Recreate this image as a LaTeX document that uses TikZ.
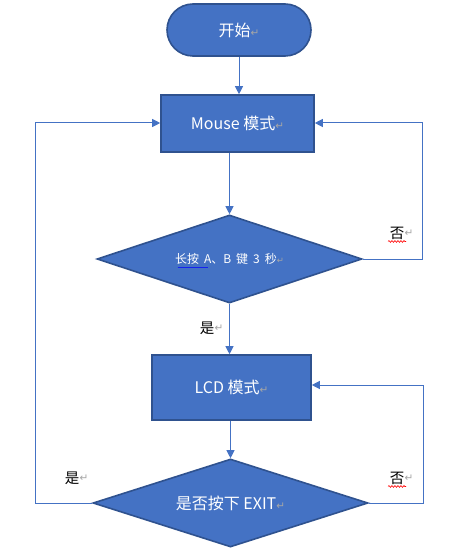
\documentclass[tikz,border=0pt]{standalone}
\usepackage{fontspec}
\setmainfont{Noto Sans CJK SC}
\newfontfamily\symfont{DejaVu Sans}
\usetikzlibrary{shapes.geometric,shapes.misc,arrows.meta,decorations.pathmorphing}
\definecolor{offblue}{HTML}{4472C4}
\definecolor{offdark}{HTML}{2F528F}
\newcommand{\pmark}[1][10.5]{{\symfont\color{gray!70}\fontsize{#1}{12}\selectfont ↵}}
\newcommand{\gap}{\hspace{5pt}}
\begin{document}
\begin{tikzpicture}[x=1pt,y=-1pt,
  box/.style={draw=offdark,line width=1.6pt,fill=offblue,text=white,inner sep=0pt,font=\fontsize{16}{19}\selectfont},
  term/.style={box,rounded rectangle},
  rect/.style={box,rectangle},
  dia/.style={box,diamond,aspect=3},
  arr/.style={draw=offblue,line width=1pt,-{Triangle[length=8pt,width=8pt]}},
  lbl/.style={inner sep=0pt,font=\fontsize{14.5}{17}\selectfont,text=black}]
\fill[white] (0,0) rectangle (460,553);
\useasboundingbox (0,0) rectangle (460,553);
\node[term,minimum width=144pt,minimum height=52pt] (start) at (239,30) {开始\pmark};
\node[rect,minimum width=153pt,minimum height=57pt] (mouse) at (237.5,123.5) {Mouse 模式\pmark};
\node[dia,minimum width=265pt,minimum height=88pt,font=\fontsize{12}{14}\selectfont] (d1) at (229.5,259) {长按\gap A、B\gap 键\gap 3\gap 秒\pmark[8.5]};
\node[rect,minimum width=159pt,minimum height=65pt] (lcd) at (231.5,387.5) {LCD 模式\pmark};
\node[dia,minimum width=275pt,minimum height=88pt] (d2) at (230.5,503) {是否按下 EXIT\pmark};
\coordinate (r1) at (422,123);
\coordinate (l1) at (35,123);
\coordinate (r2) at (423,385);
\draw[arr] (start.south) -- (start.south |- mouse.north);
\draw[arr] (d1.north |- mouse.south) -- (d1.north);
\draw[arr] (d1.south) -- (d1.south |- lcd.north);
\draw[arr] (d2.north |- lcd.south) -- (d2.north);
\draw[arr] (d1.east) -| (r1) -- (r1 -| mouse.east);
\draw[arr] (d2.west) -| (l1) -- (l1 -| mouse.west);
\draw[arr] (d2.east) -| (r2) -- (r2 -| lcd.east);
\node[lbl] (no1) at (397,233) {否};
\node[anchor=west,inner sep=0pt] (no1m) at (no1.east) {\pmark};
\node[lbl] (yes1) at (207,328) {是};
\node[anchor=west,inner sep=0pt] (yes1m) at (yes1.east) {\pmark};
\node[lbl] (yes2) at (72,478) {是};
\node[anchor=west,inner sep=0pt] (yes2m) at (yes2.east) {\pmark};
\node[lbl] (no2) at (397,478) {否};
\node[anchor=west,inner sep=0pt] (no2m) at (no2.east) {\pmark};
\draw[red,line width=0.6pt,decorate,decoration={snake,segment length=3pt,amplitude=0.9pt}] ([xshift=-9pt,yshift=-2pt]no1.south) -- ([xshift=9pt,yshift=-2pt]no1.south);
\draw[red,line width=0.6pt,decorate,decoration={snake,segment length=3pt,amplitude=0.9pt}] ([xshift=-9pt,yshift=-2pt]no2.south) -- ([xshift=9pt,yshift=-2pt]no2.south);
\draw[blue!70!offblue,line width=0.6pt] ([xshift=-52pt,yshift=-8pt]d1.center) -- ([xshift=-22pt,yshift=-8pt]d1.center);
\end{tikzpicture}
\end{document}
